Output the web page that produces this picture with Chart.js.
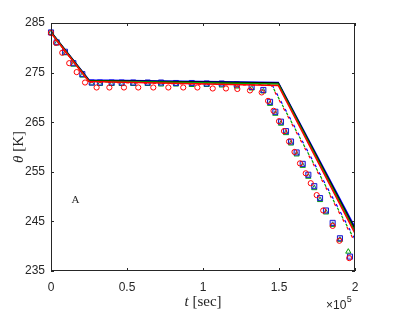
<!DOCTYPE html>
<html>
<head>
<meta charset="utf-8">
<script src="https://cdn.jsdelivr.net/npm/chart.js@4.4.1/dist/chart.umd.min.js"></script>
<style>
  html, body { margin: 0; padding: 0; background: #fff; }
  #wrap { position: relative; width: 393px; height: 312px; }
</style>
</head>
<body>
<div id="wrap"><canvas id="c" width="393" height="312"></canvas></div>
<script>
// ---- data (t in units of 1e5 s, theta in K) ----
const xTicks = [0, 0.5, 1, 1.5, 2];
const yTicks = [235, 245, 255, 265, 275, 285];

const tSolid = [0, 0.25, 1.495, 2];
const thetaSolidBlue  = [283.2, 273.5, 273.0, 243.8];
const thetaSolidBlack = [283.2, 273.4, 272.9, 243.4];
const thetaSolidGreen = [283.1, 273.3, 272.7, 243.0];
const thetaSolidRed   = [283.0, 273.2, 272.4, 242.6];

const tDashed = [0, 0.25, 1.45, 2];
const thetaDashedBlue  = [283.1, 273.3, 272.8, 241.4];
const thetaDashedGreen = [283.0, 273.2, 272.6, 241.1];
const thetaDashedRed   = [283.0, 273.1, 272.4, 240.8];

const tSquares = [0.000, 0.0375, 0.092, 0.147, 0.206, 0.268, 0.322, 0.399, 0.465, 0.541, 0.636, 0.724, 0.822, 0.926, 1.024, 1.123, 1.222, 1.320, 1.397, 1.441, 1.476, 1.513, 1.546, 1.579, 1.616, 1.656, 1.693, 1.732, 1.770, 1.809, 1.853, 1.901, 1.967];
const thetaSquares = [283.1, 281.1, 279.2, 276.9, 274.7, 273.0, 273.0, 273.0, 273.0, 273.0, 273.0, 273.0, 272.9, 272.9, 272.8, 272.8, 272.6, 272.1, 271.5, 269.1, 267.1, 265.1, 263.2, 261.1, 258.9, 256.6, 254.4, 252.1, 249.7, 247.2, 244.7, 241.6, 237.9];

const tTriangles = [0.000, 0.0375, 0.092, 0.147, 0.206, 0.268, 0.322, 0.399, 0.465, 0.541, 0.636, 0.724, 0.822, 0.926, 1.024, 1.123, 1.222, 1.320, 1.397, 1.441, 1.476, 1.513, 1.546, 1.579, 1.616, 1.656, 1.693, 1.732, 1.770, 1.809, 1.853, 1.901, 1.956];
const thetaTriangles = [283.0, 280.9, 278.9, 276.6, 274.4, 272.8, 272.7, 272.7, 272.7, 272.7, 272.7, 272.6, 272.6, 272.5, 272.5, 272.4, 272.2, 271.8, 271.2, 268.7, 266.7, 264.7, 262.8, 260.7, 258.5, 256.2, 254.0, 251.7, 249.3, 246.8, 244.3, 241.3, 238.9];

const tCircles = [0.000, 0.033, 0.074, 0.120, 0.169, 0.224, 0.300, 0.384, 0.480, 0.574, 0.673, 0.772, 0.870, 0.963, 1.064, 1.151, 1.226, 1.309, 1.386, 1.428, 1.464, 1.500, 1.533, 1.566, 1.602, 1.638, 1.676, 1.709, 1.748, 1.791, 1.853, 1.897, 1.962];
const thetaCircles = [283.0, 281.0, 279.0, 276.9, 275.1, 273.0, 272.0, 272.0, 272.0, 272.0, 272.0, 272.0, 272.0, 272.0, 271.8, 271.8, 271.7, 271.4, 271.0, 269.3, 267.3, 265.2, 263.2, 261.1, 259.0, 256.7, 254.7, 252.7, 250.3, 247.2, 244.1, 241.1, 237.6];

const pts = (xs, ys) => xs.map((x, i) => ({ x: x, y: ys[i] }));

const BLUE = '#0000ff', RED = '#ff0000', GREEN = '#00a000', BLACK = '#000000';
const AXIS = '#262626';

function lineDs(xs, ys, color, dashed, offset, order) {
  return {
    data: pts(xs, ys), showLine: true, borderColor: color, backgroundColor: color,
    borderWidth: dashed ? 1.2 : 1.5, pointRadius: 0, borderDash: dashed ? [3, 6] : [],
    borderDashOffset: offset || 0, order: order, tension: 0
  };
}
function markerDs(xs, ys, color, fill, style, r, order) {
  return {
    data: pts(xs, ys), showLine: false, borderColor: color, backgroundColor: fill,
    pointStyle: style, pointRadius: r, pointBorderWidth: 1, order: order, clip: false
  };
}

const frame = {
  id: 'frame',
  afterDraw(chart) {
    const { ctx, chartArea: a, scales } = chart;
    ctx.save();
    ctx.strokeStyle = AXIS;
    ctx.lineWidth = 1;
    ctx.strokeRect(a.left + 0.5, a.top + 0.5, a.right - a.left - 1, a.bottom - a.top - 1);
    ctx.beginPath();
    const L = 3;
    xTicks.forEach(v => {
      const px = Math.round(scales.x.getPixelForValue(v)) + 0.5;
      ctx.moveTo(px, a.bottom); ctx.lineTo(px, a.bottom - L);
      ctx.moveTo(px, a.top); ctx.lineTo(px, a.top + L);
    });
    yTicks.forEach(v => {
      const py = Math.round(scales.y.getPixelForValue(v)) + 0.5;
      ctx.moveTo(a.left, py); ctx.lineTo(a.left + L, py);
      ctx.moveTo(a.right, py); ctx.lineTo(a.right - L, py);
    });
    ctx.stroke();

    ctx.fillStyle = AXIS;
    ctx.textBaseline = 'middle';
    // x title: t [sec]
    ctx.font = 'italic 15px "Liberation Serif", "DejaVu Serif", serif';
    const tW = ctx.measureText('t').width;
    ctx.font = '15px "Liberation Serif", "DejaVu Serif", serif';
    const rW = ctx.measureText(' [sec]').width;
    const cx = (a.left + a.right) / 2;
    let sx = cx - (tW + rW) / 2;
    ctx.textAlign = 'left';
    ctx.font = 'italic 15px "Liberation Serif", "DejaVu Serif", serif';
    ctx.fillText('t', sx, 302);
    ctx.font = '15px "Liberation Serif", "DejaVu Serif", serif';
    ctx.fillText(' [sec]', sx + tW, 302);

    // y title: θ [K]
    ctx.save();
    ctx.translate(19, (a.top + a.bottom) / 2);
    ctx.rotate(-Math.PI / 2);
    ctx.font = 'italic 15px "Liberation Serif", "DejaVu Serif", serif';
    const thW = ctx.measureText('θ').width;
    ctx.font = '15px "Liberation Serif", "DejaVu Serif", serif';
    const kW = ctx.measureText(' [K]').width;
    sx = -(thW + kW) / 2;
    ctx.font = 'italic 15px "Liberation Serif", "DejaVu Serif", serif';
    ctx.fillText('θ', sx, 0);
    ctx.font = '15px "Liberation Serif", "DejaVu Serif", serif';
    ctx.fillText(' [K]', sx + thW, 0);
    ctx.restore();

    // exponent ×10^5
    ctx.font = '12px "Liberation Sans", Arial, sans-serif';
    ctx.textAlign = 'left';
    ctx.fillText('×10', 326, 306);
    const w10 = ctx.measureText('×10').width;
    ctx.font = '9px "Liberation Sans", Arial, sans-serif';
    ctx.fillText('5', 326 + w10 + 0.5, 300);

    // annotation A
    ctx.font = '11px "Liberation Serif", "DejaVu Serif", serif';
    ctx.textAlign = 'center';
    ctx.fillText('A', 75.5, 200.5);
    ctx.restore();
  }
};

new Chart(document.getElementById('c'), {
  type: 'scatter',
  data: {
    datasets: [
      lineDs(tSolid, thetaSolidRed, RED, false, 0, 1),
      lineDs(tSolid, thetaSolidGreen, GREEN, false, 0, 2),
      lineDs(tSolid, thetaSolidBlack, BLACK, false, 0, 3),
      lineDs(tSolid, thetaSolidBlue, BLUE, false, 0, 4),
      lineDs(tDashed, thetaDashedRed, RED, true, 0, 5),
      lineDs(tDashed, thetaDashedGreen, GREEN, true, 3, 6),
      lineDs(tDashed, thetaDashedBlue, BLUE, true, 6, 7),
      markerDs(tCircles, thetaCircles, RED, 'rgba(255,0,0,0)', 'circle', 2.6, 8),
      markerDs(tSquares, thetaSquares, '#1a1ad0', 'rgba(80,80,255,0.25)', 'rect', 3.6, 9),
      markerDs(tTriangles, thetaTriangles, GREEN, 'rgba(0,160,0,0)', 'triangle', 3, 10)
    ]
  },
  options: {
    responsive: false,
    animation: false,
    layout: { padding: { left: 0, top: 23, right: 38, bottom: 0 } },
    plugins: { legend: { display: false }, tooltip: { enabled: false } },
    scales: {
      x: {
        type: 'linear', min: 0, max: 2,
        afterBuildTicks(s) { s.ticks = xTicks.map(v => ({ value: v })); },
        afterFit(s) { s.height = 41; },
        ticks: {
          color: AXIS, padding: 9, maxRotation: 0,
          font: { family: '"Liberation Sans", Arial, sans-serif', size: 12 },
          callback: v => String(v)
        },
        grid: { drawOnChartArea: false, drawTicks: false },
        border: { display: false }
      },
      y: {
        type: 'linear', min: 235, max: 285,
        afterBuildTicks(s) { s.ticks = yTicks.map(v => ({ value: v })); },
        afterFit(s) { s.width = 51; },
        ticks: {
          color: AXIS, padding: 6,
          font: { family: '"Liberation Sans", Arial, sans-serif', size: 12 },
          callback: v => String(v)
        },
        grid: { drawOnChartArea: false, drawTicks: false },
        border: { display: false }
      }
    }
  },
  plugins: [frame]
});
</script>
</body>
</html>
